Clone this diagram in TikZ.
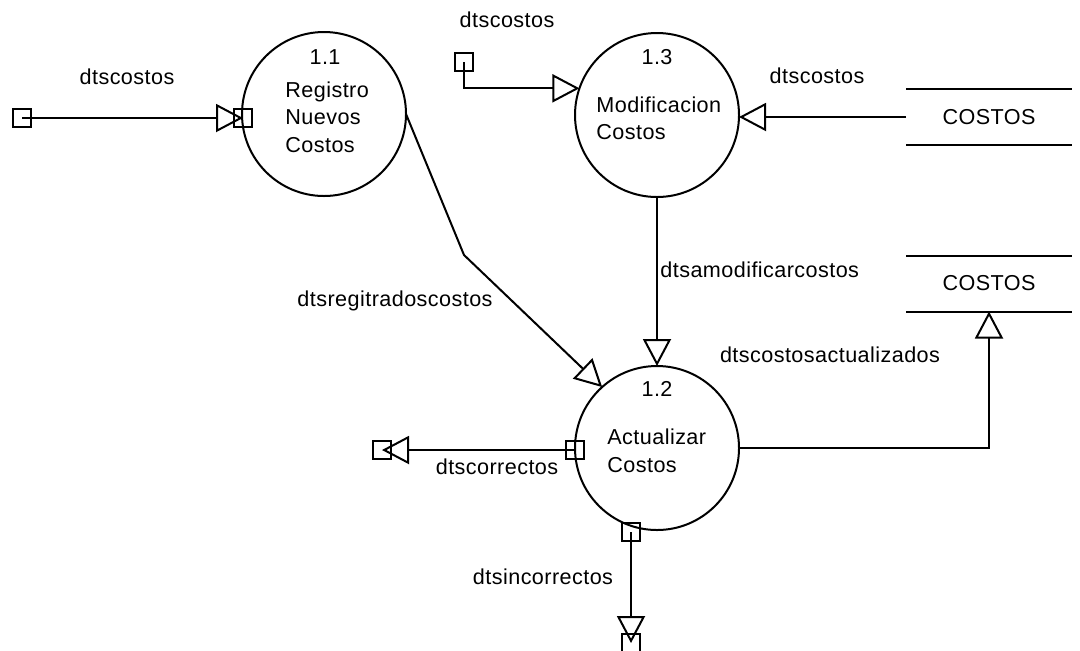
\documentclass[tikz,border=0pt]{standalone}
\usepackage{fontspec}
\setmainfont{Liberation Sans}[LetterSpace=2]
\usetikzlibrary{arrows.meta}

\begin{document}
\begin{tikzpicture}[x=0.5pt, y=-0.5pt,
		every node/.style={font=\fontsize{10.8}{13.75}\selectfont},
		proc/.style={draw, circle, line width=1pt, minimum size=82pt, inner sep=0pt, outer sep=0pt},
		store/.style={minimum width=83pt, minimum height=28pt, inner sep=0pt, outer sep=0pt},
		port/.style={draw, rectangle, line width=1pt, minimum size=9pt, inner sep=0pt, outer sep=0pt},
		flow/.style={line width=1pt, -{Triangle[open, length=13.5pt, width=14pt]}},
		ptext/.style={inner sep=0pt, align=left, anchor=west}]
			\useasboundingbox (0,0) rectangle (1080,650);
			\clip (0,0) rectangle (1080,650);
			
			\node[proc] (p11) at (324,114) {};
			\node[proc] (p13) at (657,115) {};
			\node[proc] (p12) at (657,448) {};
			
			\node[store] (st1) at (989,117) {COSTOS};
			\draw[line width=1pt] (st1.north west) -- (st1.north east) (st1.south west) -- (st1.south east);
			\node[store] (st2) at (989,283.5) {COSTOS};
			\draw[line width=1pt] (st2.north west) -- (st2.north east) (st2.south west) -- (st2.south east);
			
			\node[port] (e1) at (22,118) {};
			\node[port] (i11) at (243,118) {};
			\node[port] (e2) at (464,62) {};
			\node[port] (o12a) at (575,450) {};
			\node[port] (e3) at (382,450) {};
			\node[port] (o12b) at (631,532) {};
			\node[port] (e4) at (631,643) {};
			\coordinate (bend) at (464,255);
			
			\draw[flow] (e1.center) -- (i11.center);
			\draw[flow] (e2.center) |- (p13.161.5);
			\draw[flow] (st1.west) -- (st1.west -| p13.east);
			\draw[flow] (p11.east) -- (bend) -- (p12.132);
			\draw[flow] (p13.south) -- (p12.north);
			\draw[flow] (p12.east) -| (st2.south);
			\draw[flow] (o12a.center) -- (e3.center);
			\draw[flow] (o12b.center) -- (e4.center);
			
			\node (n11) at (325,57) {1.1};
			\node[ptext] (t11) at (285,117) {Registro\\Nuevos\\Costos};
			\node (n13) at (657,57) {1.3};
			\node[ptext] (t13) at (596,118.5) {Modificacion\\Costos};
			\node (n12) at (657,389) {1.2};
			\node[ptext] (t12) at (607,451) {Actualizar\\Costos};
			
			\node (l1) at (127,77) {dtscostos};
			\node (l2) at (507,20) {dtscostos};
			\node (l3) at (817,76) {dtscostos};
			\node (l4) at (395,301) {dtsregitradoscostos};
			\node[anchor=west, inner sep=0pt] (l5) at (660,270) {dtsamodificarcostos};
			\node (l6) at (830,355) {dtscostosactualizados};
			\node (l7) at (497,467) {dtscorrectos};
			\node (l8) at (543,577) {dtsincorrectos};
		\end{tikzpicture}
\end{document}
